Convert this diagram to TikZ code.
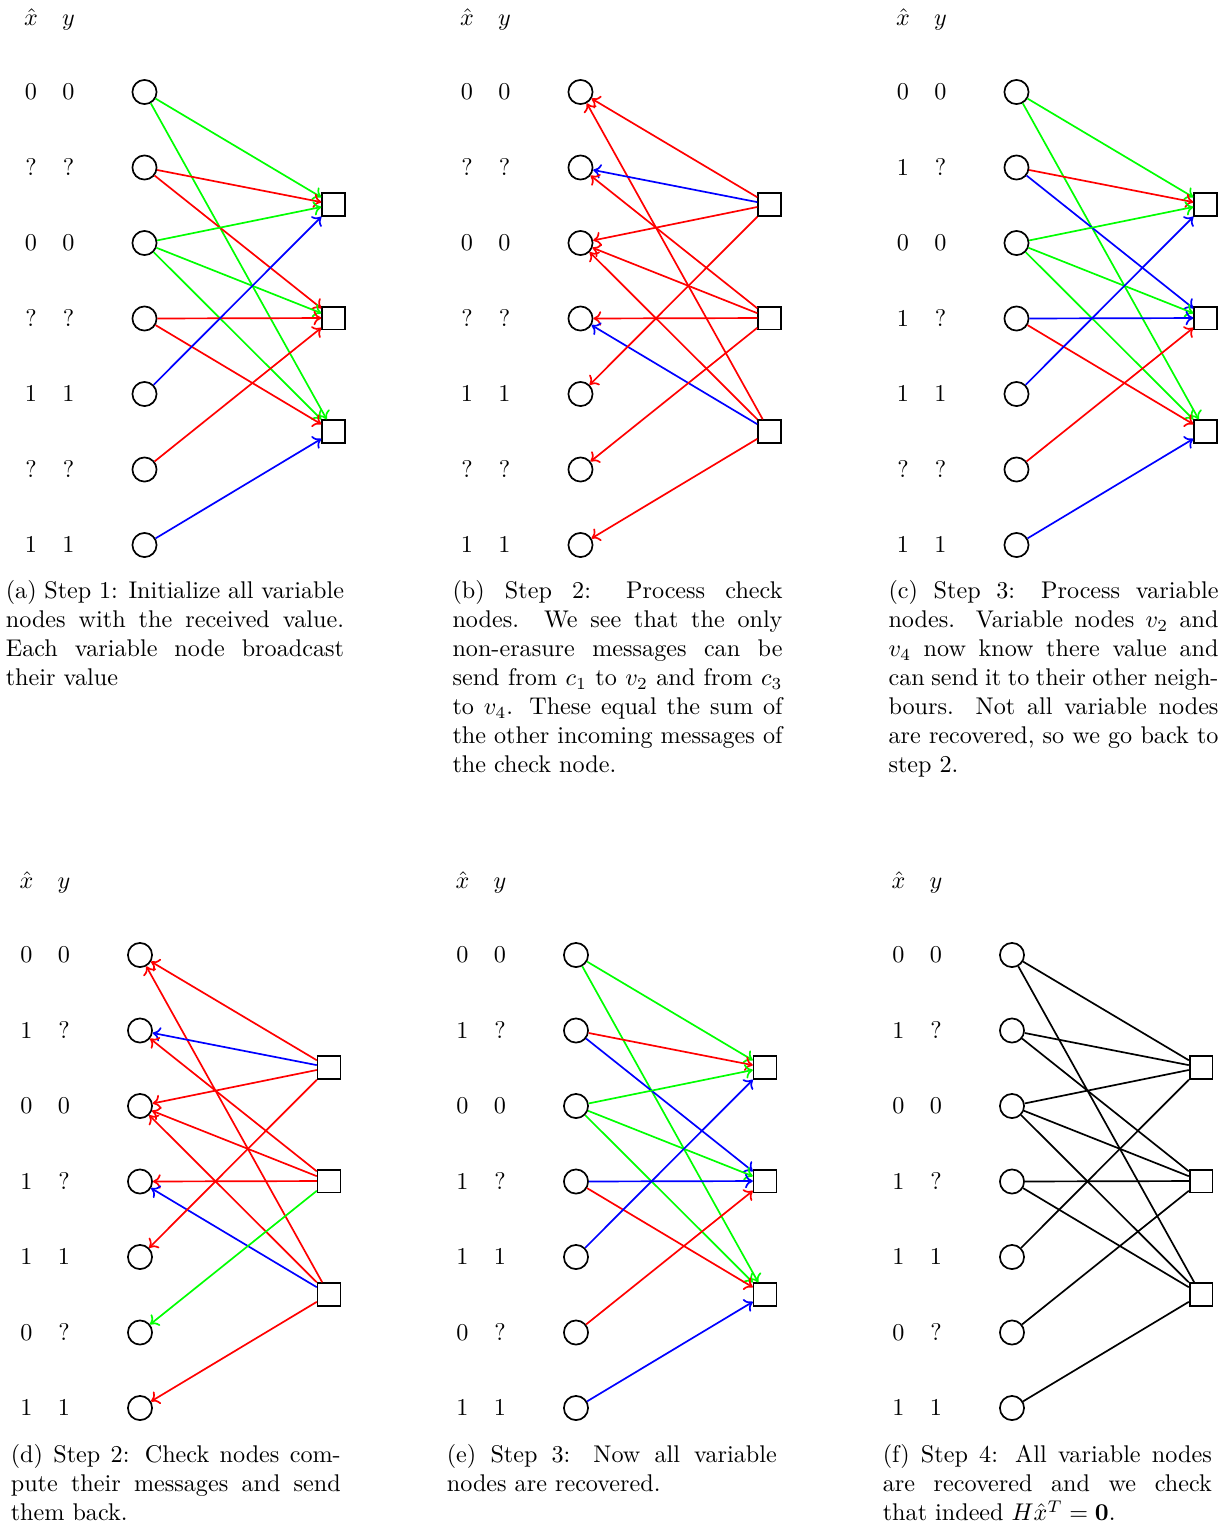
\documentclass[tikz,border=0pt]{standalone}
\usetikzlibrary{arrows.meta, positioning}
\tikzset{
  every picture/.style={line width=0.7pt},
  var/.style={draw, circle, minimum size=10pt, inner sep=0pt},
  chk/.style={draw, rectangle, minimum size=9.4pt, inner sep=0pt},
  lbl/.style={inner sep=0pt},
  head/.style={inner sep=0pt, anchor=base},
  msg/.style={-{To[length=3.2pt, width=6pt]}},
  cap/.style={text width=#1, align=justify, anchor=north west, inner sep=0pt},
  cap/.default=136.6pt,
}

\begin{document}
\begin{tikzpicture}[x=0.414pt, y=-0.414pt]
  \useasboundingbox (0,0) rectangle (1225,1526);

  % (a) step 1: every variable node sends its received value
  \begin{scope}
    \node[head] (a-hx) at (31,25) {$\hat{x}$};
    \node[head] (a-hy) at (68.5,25) {$y$};
    \foreach \i/\xv/\yv in {1/0/0,2/?/?,3/0/0,4/?/?,5/1/1,6/?/?,7/1/1} {
      \node[lbl] (a-x\i) at (31,{92+75.5*(\i-1)}) {$\xv$};
      \node[lbl] (a-y\i) at (68.5,{92+75.5*(\i-1)}) {$\yv$};
      \node[var] (a-v\i) at (144.5,{92+75.5*(\i-1)}) {};
    }
    \foreach \j in {1,2,3} \node[chk] (a-c\j) at (333.5,{204.5+113.5*(\j-1)}) {};
    \foreach \v/\c/\col in {1/1/green,1/3/green,2/1/red,2/2/red,3/1/green,3/2/green,3/3/green,4/2/red,4/3/red,5/1/blue,6/2/red,7/3/blue}
      \draw[msg, \col] (a-v\v) -- (a-c\c);
    \node[cap=140pt] (a-cap) at (5,580) {(a) Step 1: Initialize all variable nodes with the received value. Each variable node broadcast their value};
  \end{scope}

  % (b) step 2: check nodes answer
  \begin{scope}[shift={(436,0)}]
    \node[head] (b-hx) at (31,25) {$\hat{x}$};
    \node[head] (b-hy) at (68.5,25) {$y$};
    \foreach \i/\xv/\yv in {1/0/0,2/?/?,3/0/0,4/?/?,5/1/1,6/?/?,7/1/1} {
      \node[lbl] (b-x\i) at (31,{92+75.5*(\i-1)}) {$\xv$};
      \node[lbl] (b-y\i) at (68.5,{92+75.5*(\i-1)}) {$\yv$};
      \node[var] (b-v\i) at (144.5,{92+75.5*(\i-1)}) {};
    }
    \foreach \j in {1,2,3} \node[chk] (b-c\j) at (333.5,{204.5+113.5*(\j-1)}) {};
    \foreach \v/\c/\col in {1/1/red,1/3/red,2/1/blue,2/2/red,3/1/red,3/2/red,3/3/red,4/2/red,4/3/blue,5/1/red,6/2/red,7/3/red}
      \draw[msg, \col] (b-c\c) -- (b-v\v);
    \node[cap] (b-cap) at (15.7,580) {(b) Step 2: Process check nodes. We see that the only non-erasure messages can be send from $c_1$ to $v_2$ and from $c_3$ to $v_4$. These equal the sum of the other incoming messages of the check node.};
  \end{scope}

  % (c) step 3: variable nodes answer
  \begin{scope}[shift={(872,0)}]
    \node[head] (c-hx) at (31,25) {$\hat{x}$};
    \node[head] (c-hy) at (68.5,25) {$y$};
    \foreach \i/\xv/\yv in {1/0/0,2/1/?,3/0/0,4/1/?,5/1/1,6/?/?,7/1/1} {
      \node[lbl] (c-x\i) at (31,{92+75.5*(\i-1)}) {$\xv$};
      \node[lbl] (c-y\i) at (68.5,{92+75.5*(\i-1)}) {$\yv$};
      \node[var] (c-v\i) at (144.5,{92+75.5*(\i-1)}) {};
    }
    \foreach \j in {1,2,3} \node[chk] (c-c\j) at (333.5,{204.5+113.5*(\j-1)}) {};
    \foreach \v/\c/\col in {1/1/green,1/3/green,2/1/red,2/2/blue,3/1/green,3/2/green,3/3/green,4/2/blue,4/3/red,5/1/blue,6/2/red,7/3/blue}
      \draw[msg, \col] (c-v\v) -- (c-c\c);
    \node[cap] (c-cap) at (15.7,580) {(c) Step 3: Process variable nodes. Variable nodes $v_2$ and $v_4$ now know there value and can send it to their other neighbours. Not all variable nodes are recovered, so we go back to step 2.};
  \end{scope}

  % (d) step 2 again
  \begin{scope}[shift={(-4.5,863)}]
    \node[head] (d-hx) at (31,25) {$\hat{x}$};
    \node[head] (d-hy) at (68.5,25) {$y$};
    \foreach \i/\xv/\yv in {1/0/0,2/1/?,3/0/0,4/1/?,5/1/1,6/0/?,7/1/1} {
      \node[lbl] (d-x\i) at (31,{92+75.5*(\i-1)}) {$\xv$};
      \node[lbl] (d-y\i) at (68.5,{92+75.5*(\i-1)}) {$\yv$};
      \node[var] (d-v\i) at (144.5,{92+75.5*(\i-1)}) {};
    }
    \foreach \j in {1,2,3} \node[chk] (d-c\j) at (333.5,{204.5+113.5*(\j-1)}) {};
    \foreach \v/\c/\col in {1/1/red,1/3/red,2/1/blue,2/2/red,3/1/red,3/2/red,3/3/red,4/2/red,4/3/blue,5/1/red,6/2/green,7/3/red}
      \draw[msg, \col] (d-c\c) -- (d-v\v);
    \node[cap] (d-cap) at (14.5,581) {(d) Step 2: Check nodes compute their messages and send them back.};
  \end{scope}

  % (e) step 3 again
  \begin{scope}[shift={(431.5,863)}]
    \node[head] (e-hx) at (31,25) {$\hat{x}$};
    \node[head] (e-hy) at (68.5,25) {$y$};
    \foreach \i/\xv/\yv in {1/0/0,2/1/?,3/0/0,4/1/?,5/1/1,6/0/?,7/1/1} {
      \node[lbl] (e-x\i) at (31,{92+75.5*(\i-1)}) {$\xv$};
      \node[lbl] (e-y\i) at (68.5,{92+75.5*(\i-1)}) {$\yv$};
      \node[var] (e-v\i) at (144.5,{92+75.5*(\i-1)}) {};
    }
    \foreach \j in {1,2,3} \node[chk] (e-c\j) at (333.5,{204.5+113.5*(\j-1)}) {};
    \foreach \v/\c/\col in {1/1/green,1/3/green,2/1/red,2/2/blue,3/1/green,3/2/green,3/3/green,4/2/blue,4/3/red,5/1/blue,6/2/red,7/3/blue}
      \draw[msg, \col] (e-v\v) -- (e-c\c);
    \node[cap] (e-cap) at (14.5,581) {(e) Step 3: Now all variable nodes are recovered.};
  \end{scope}

  % (f) step 4: check the codeword
  \begin{scope}[shift={(867.5,863)}]
    \node[head] (f-hx) at (31,25) {$\hat{x}$};
    \node[head] (f-hy) at (68.5,25) {$y$};
    \foreach \i/\xv/\yv in {1/0/0,2/1/?,3/0/0,4/1/?,5/1/1,6/0/?,7/1/1} {
      \node[lbl] (f-x\i) at (31,{92+75.5*(\i-1)}) {$\xv$};
      \node[lbl] (f-y\i) at (68.5,{92+75.5*(\i-1)}) {$\yv$};
      \node[var] (f-v\i) at (144.5,{92+75.5*(\i-1)}) {};
    }
    \foreach \j in {1,2,3} \node[chk] (f-c\j) at (333.5,{204.5+113.5*(\j-1)}) {};
    \foreach \v/\c in {1/1,1/3,2/1,2/2,3/1,3/2,3/3,4/2,4/3,5/1,6/2,7/3}
      \draw (f-v\v) -- (f-c\c);
    \node[cap=136.2pt] (f-cap) at (14.5,581) {(f) Step 4: All variable nodes are recovered and we check\linebreak that indeed $H\hat{x}^T = \mathbf{0}$.};
  \end{scope}
\end{tikzpicture}
\end{document}
